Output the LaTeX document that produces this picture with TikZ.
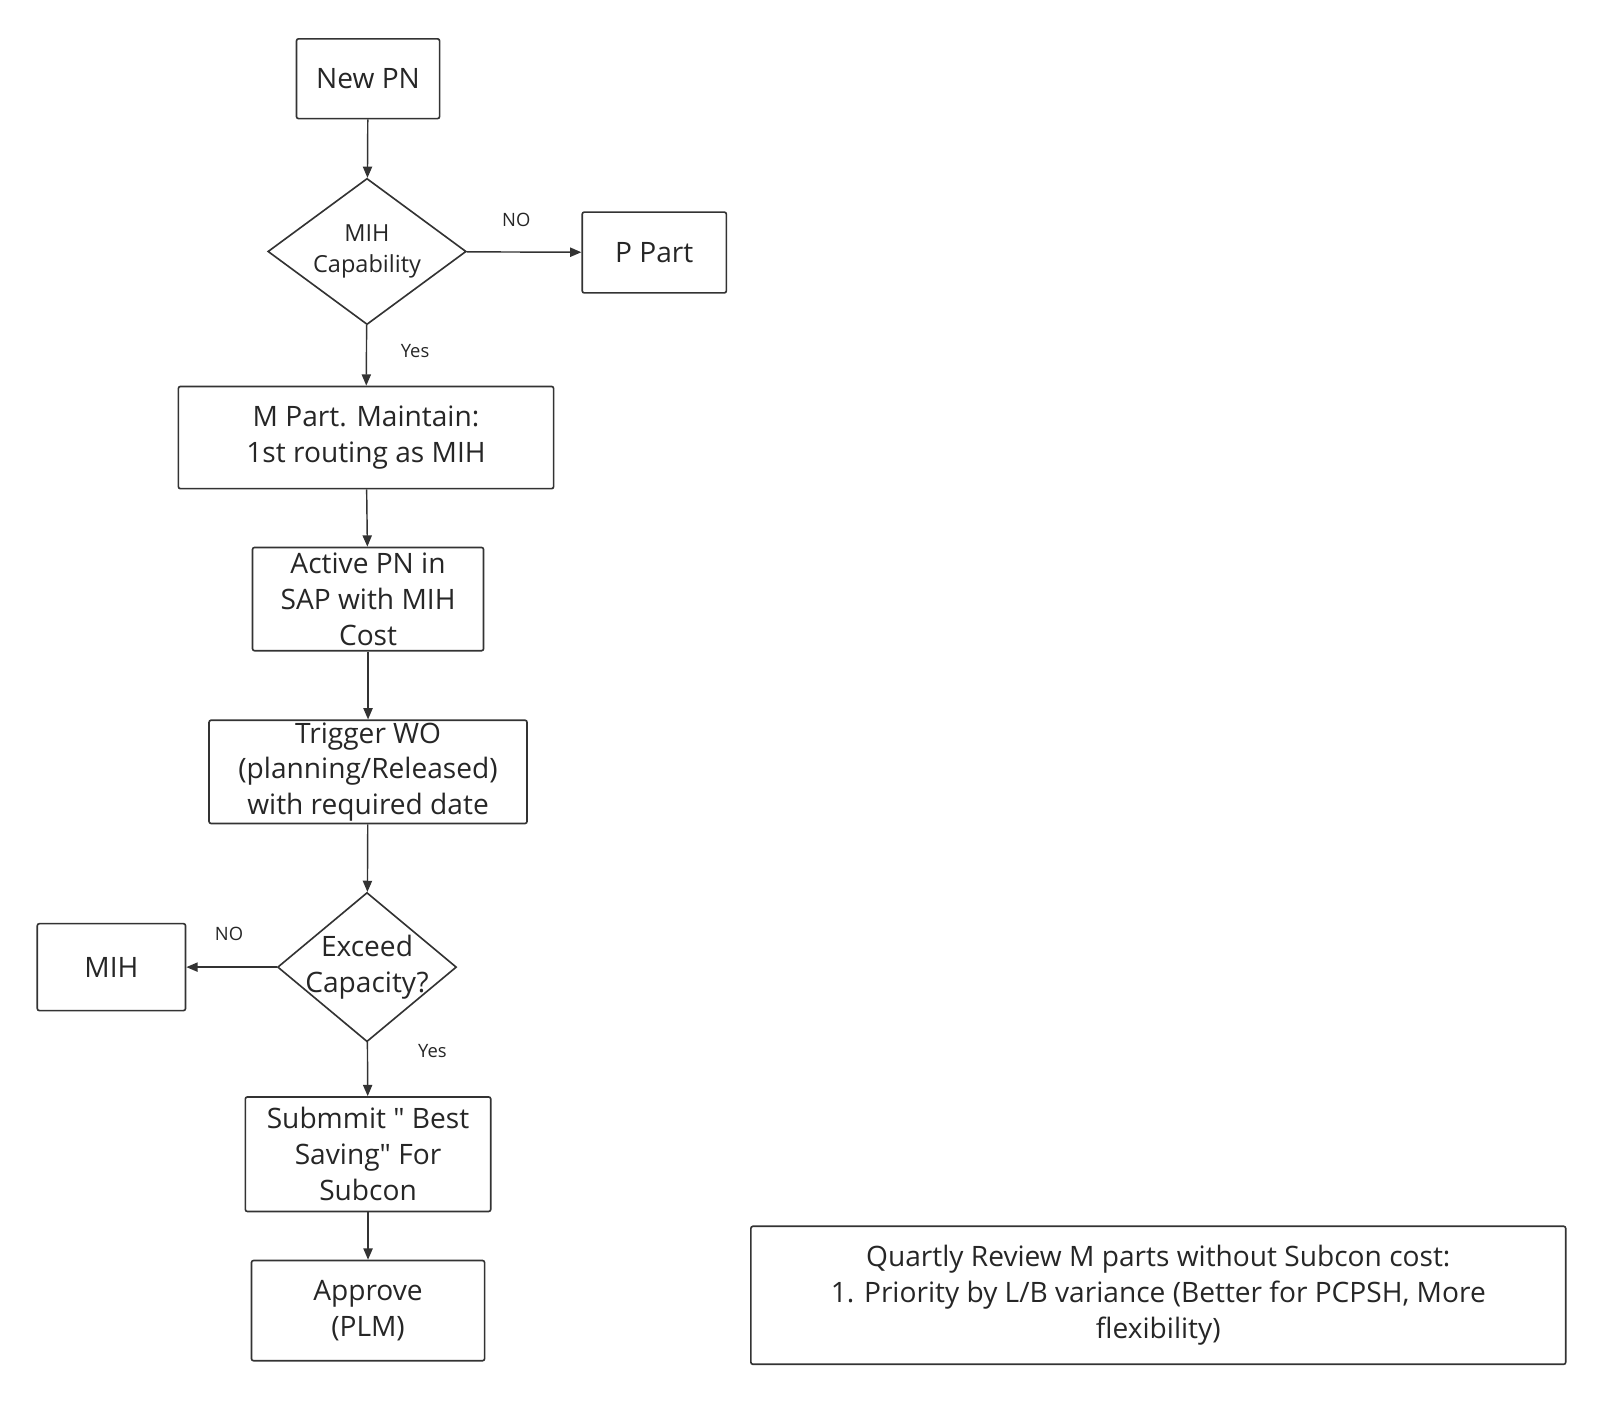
\documentclass[tikz,border=0pt]{standalone}
\usepackage{fontspec}
\setmainfont{Open Sans}[Ligatures=TeXOff]
\usetikzlibrary{shapes.geometric,arrows.meta}
\begin{document}
\begin{tikzpicture}[x=1pt,y=-1pt,
 bx/.style={draw=black!80,line width=1.6pt,rounded corners=2pt,align=center,inner sep=0pt,font=\fontsize{27.5}{35}\selectfont,text=black!85},
 dm/.style={draw=black!80,line width=1.6pt,diamond,inner sep=0pt},
 tx/.style={align=center,inner sep=0pt,text=black!85},
 ar/.style={draw=black!80,line width=1.4pt,-{Triangle[length=11pt,width=9pt]}},
 lb/.style={font=\fontsize{18}{20}\selectfont,text=black!85}]
\useasboundingbox (0,0) rectangle (1568,1372);
\node[bx,minimum width=140,minimum height=78] (pn) at (360,77) {New PN};
\node[dm,minimum width=194,minimum height=143] (mc) at (359,246) {};
\node[tx,font=\fontsize{23}{31}\selectfont] (mct) at (359,246) {MIH\\Capability};
\node[bx,minimum width=141,minimum height=79] (pp) at (640,247) {P Part};
\node[bx,minimum width=367,minimum height=100] (mp) at (358,428) {M Part. Maintain:\\1st routing as MIH};
\node[bx,minimum width=226,minimum height=101] (ac) at (360,586) {Active PN in\\SAP with MIH\\Cost};
\node[bx,minimum width=311,minimum height=101] (tw) at (360,755) {Trigger WO\\(planning/Released)\\with required date};
\node[dm,minimum width=175,minimum height=146] (ex) at (359,946) {};
\node[tx,font=\fontsize{27.5}{35}\selectfont] (ext) at (359,946) {Exceed\\Capacity?};
\node[bx,minimum width=145,minimum height=85] (mih) at (109,946) {MIH};
\node[bx,minimum width=240,minimum height=112] (sb) at (360,1129) {Submmit " Best\\Saving" For\\Subcon};
\node[bx,minimum width=228,minimum height=98] (ap) at (360,1282) {Approve\\(PLM)};
\node[bx,minimum width=797,minimum height=135] (qr) at (1133,1267) {Quartly Review M parts without Subcon cost:\\1. Priority by L/B variance (Better for PCPSH, More\\flexibility)};
\draw[ar] (pn) -- (mc);
\draw[ar] (mc) -- (pp);
\node[lb] (l1) at (505,215) {NO};
\draw[ar] (mc) -- (mp);
\node[lb] (l2) at (406,343) {Yes};
\draw[ar] (mp) -- (ac);
\draw[ar] (ac) -- (tw);
\draw[ar] (tw) -- (ex);
\draw[ar] (ex) -- (mih);
\node[lb] (l3) at (224,914) {NO};
\draw[ar] (ex) -- (sb);
\node[lb] (l4) at (423,1028) {Yes};
\draw[ar] (sb) -- (ap);
\end{tikzpicture}
\end{document}
